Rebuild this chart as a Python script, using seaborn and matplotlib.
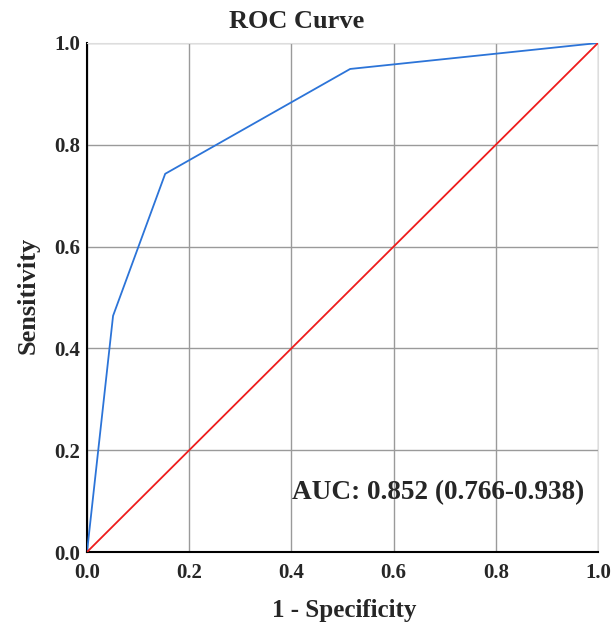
import matplotlib
matplotlib.use("Agg")
import matplotlib.pyplot as plt
import seaborn as sns
import pandas as pd

fpr = [0.0, 0.051, 0.153, 0.515, 1.0]
tpr = [0.0, 0.464, 0.743, 0.949, 1.0]
ref_x = [0.0, 1.0]
ref_y = [0.0, 1.0]
ticks = [0.0, 0.2, 0.4, 0.6, 0.8, 1.0]
auc_text = "AUC: 0.852 (0.766-0.938)"

sns.set_style("white")
plt.rcParams['font.family'] = ['Liberation Serif', 'DejaVu Serif']

fig = plt.figure(figsize=(6.12, 6.32), dpi=100)
ax = fig.add_axes([87/612, 80/632, 511/612, 509/632])

roc = pd.DataFrame({"fpr": fpr, "tpr": tpr})
ref = pd.DataFrame({"x": ref_x, "y": ref_y})
sns.lineplot(data=roc, x="fpr", y="tpr", ax=ax, color="#2c74d8", lw=1.3, sort=False, estimator=None, zorder=3)
sns.lineplot(data=ref, x="x", y="y", ax=ax, color="#ee1c1c", lw=1.3, zorder=3)

ax.set_xlim(0, 1)
ax.set_ylim(0, 1)
ax.set_xticks(ticks)
ax.set_yticks(ticks)
ax.set_xticklabels([f"{t:.1f}" for t in ticks], fontsize=15, fontweight="bold")
ax.set_yticklabels([f"{t:.1f}" for t in ticks], fontsize=15, fontweight="bold")
ax.grid(True, color="#9a9a9a", lw=1.0)
ax.set_axisbelow(True)
for s in ["top", "right"]:
    ax.spines[s].set_visible(True)
    ax.spines[s].set_color("#dddddd")
    ax.spines[s].set_linewidth(0.8)
for s in ["left", "bottom"]:
    ax.spines[s].set_color("black")
    ax.spines[s].set_linewidth(1.5)
ax.tick_params(axis="y", length=0, pad=5)
ax.tick_params(axis="x", length=0, pad=8)
ax.set_xlabel("")
ax.set_ylabel("")

fig.text(297/612, 1 - 22/632, "ROC Curve", ha="center", va="center", fontsize=19, fontweight="bold")
fig.text(344/612, 1 - 610/632, "1 - Specificity", ha="center", va="center", fontsize=18, fontweight="bold")
fig.text(28/612, 1 - 295/632, "Sensitivity", ha="center", va="center", rotation=90, fontsize=19, fontweight="bold")
ax.text(0.402, 0.116, auc_text, transform=ax.transAxes, ha="left", va="center", fontsize=19.6, fontweight="bold")

fig.savefig("out.png", dpi=100)
